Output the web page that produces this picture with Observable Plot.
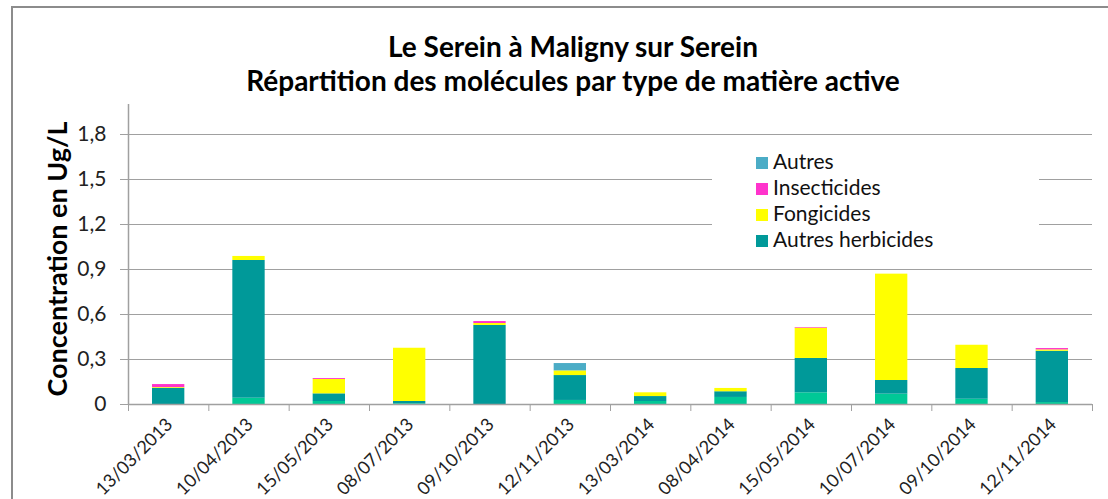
<!DOCTYPE html>
<html>
<head>
<meta charset="utf-8">
<script src="https://cdn.jsdelivr.net/npm/d3@7"></script>
<script src="https://cdn.jsdelivr.net/npm/@observablehq/plot@0.6"></script>
<style>
  html, body { margin: 0; padding: 0; background: #fff; overflow: hidden; }
  #wrap { position: relative; width: 1108px; height: 499px; overflow: hidden; font-family: Lato, "Open Sans", sans-serif; }
  #frame { position: absolute; left: 11px; top: 6px; width: 1200px; height: 600px; border: 2px solid #8c8c8c; pointer-events: none; }
  .title { position: absolute; left: 0; width: 1146px; text-align: center; font-weight: bold; font-size: 28px; line-height: 34px; color: #000; white-space: nowrap; }
  #ylabel { position: absolute; left: 56px; top: 259px; transform: translate(-50%, -50%) rotate(-90deg); font-weight: bold; font-size: 27px; color: #000; white-space: nowrap; }
  #legend { position: absolute; left: 712px; top: 145px; width: 327px; height: 108px; background: #fff; }
  .item { position: absolute; left: 44px; height: 26px; line-height: 26px; font-size: 21px; color: #111; white-space: nowrap; }
  .sw { display: inline-block; width: 12px; height: 12px; margin-right: 5px; vertical-align: 0px; }
</style>
</head>
<body>
<div id="wrap"></div>
<script>
// ---- data ----
const dates = ["13/03/2013","10/04/2013","15/05/2013","08/07/2013","09/10/2013","12/11/2013",
               "13/03/2014","08/04/2014","15/05/2014","10/07/2014","09/10/2014","12/11/2014"];
const herbicidesBase   = [0.000, 0.042, 0.020, 0.005, 0.000, 0.027, 0.020, 0.047, 0.078, 0.069, 0.035, 0.013];
const autresHerbicides = [0.108, 0.918, 0.051, 0.015, 0.527, 0.166, 0.033, 0.038, 0.229, 0.091, 0.205, 0.342];
const fongicides       = [0.005, 0.027, 0.096, 0.355, 0.013, 0.031, 0.025, 0.022, 0.202, 0.709, 0.155, 0.009];
const insecticides     = [0.020, 0.000, 0.006, 0.000, 0.013, 0.000, 0.000, 0.000, 0.004, 0.000, 0.000, 0.009];
const autres           = [0.000, 0.000, 0.000, 0.000, 0.000, 0.049, 0.000, 0.000, 0.000, 0.000, 0.000, 0.000];
const seriesNames  = ["Herbicides", "Autres herbicides", "Fongicides", "Insecticides", "Autres"];
const seriesColors = ["#00C896", "#009999", "#FFFF00", "#FF33CC", "#4BACC6"];
const legendNames  = ["Autres", "Insecticides", "Fongicides", "Autres herbicides"];
const yTicks = [0, 0.3, 0.6, 0.9, 1.2, 1.5, 1.8];
const titleLines = ["Le Serein à Maligny sur Serein", "Répartition des molécules par type de matière active"];
const yLabel = "Concentration en Ug/L";

// ---- build table ----
const seriesValues = [herbicidesBase, autresHerbicides, fongicides, insecticides, autres];
const rows = [];
seriesNames.forEach((name, s) => {
  seriesValues[s].forEach((v, i) => rows.push({i, date: dates[i], type: name, value: v}));
});

const fmt = d => d === 0 ? "0" : d.toFixed(1).replace(".", ",");
const grey = "#a0a0a0";

const chart = Plot.plot({
  width: 1108,
  height: 499,
  marginLeft: 128,
  marginRight: 16,
  marginTop: 104,
  marginBottom: 95,
  style: {fontFamily: "Lato, 'Open Sans', sans-serif", color: "#222", background: "transparent"},
  x: {type: "linear", domain: [0, dates.length], axis: null},
  y: {domain: [0, 2], axis: null},
  color: {domain: seriesNames, range: seriesColors},
  marks: [
    Plot.gridY(yTicks.filter(t => t > 0), {stroke: grey, strokeOpacity: 1, strokeWidth: 1.2}),
    Plot.rectY(rows, {x: "i", interval: 1, y: "value", fill: "type", insetLeft: 24, insetRight: 24}),
    Plot.ruleY([0], {stroke: grey, strokeWidth: 1.5}),
    Plot.ruleX([0], {stroke: grey, strokeWidth: 1.5}),
    Plot.axisY(yTicks, {tickSize: 8, tickPadding: 14, fontSize: 21, tickFormat: fmt, stroke: grey, fill: "#222", label: null}),
    Plot.axisX(d3.range(dates.length + 1), {tickSize: 7, tickFormat: () => "", stroke: grey, label: null}),
    Plot.axisX(dates.map((d, i) => i + 0.5), {tickSize: 0, tickPadding: 17, tickRotate: -45, fontSize: 18,
      tickFormat: d => dates[Math.floor(d)], fill: "#222", label: null, dx: 1})
  ]
});

const wrap = document.getElementById("wrap");
wrap.appendChild(chart);

const frame = document.createElement("div");
frame.id = "frame";
wrap.appendChild(frame);

titleLines.forEach((t, k) => {
  const el = document.createElement("div");
  el.className = "title";
  el.style.top = (29 + k * 34) + "px";
  el.textContent = t;
  wrap.appendChild(el);
});

const yl = document.createElement("div");
yl.id = "ylabel";
yl.textContent = yLabel;
wrap.appendChild(yl);

const legend = document.createElement("div");
legend.id = "legend";
legendNames.forEach((n, k) => {
  const it = document.createElement("div");
  it.className = "item";
  it.style.top = (3 + k * 26) + "px";
  const sw = document.createElement("span");
  sw.className = "sw";
  sw.style.background = seriesColors[seriesNames.indexOf(n)];
  it.appendChild(sw);
  it.appendChild(document.createTextNode(n));
  legend.appendChild(it);
});
wrap.appendChild(legend);
</script>
</body>
</html>
